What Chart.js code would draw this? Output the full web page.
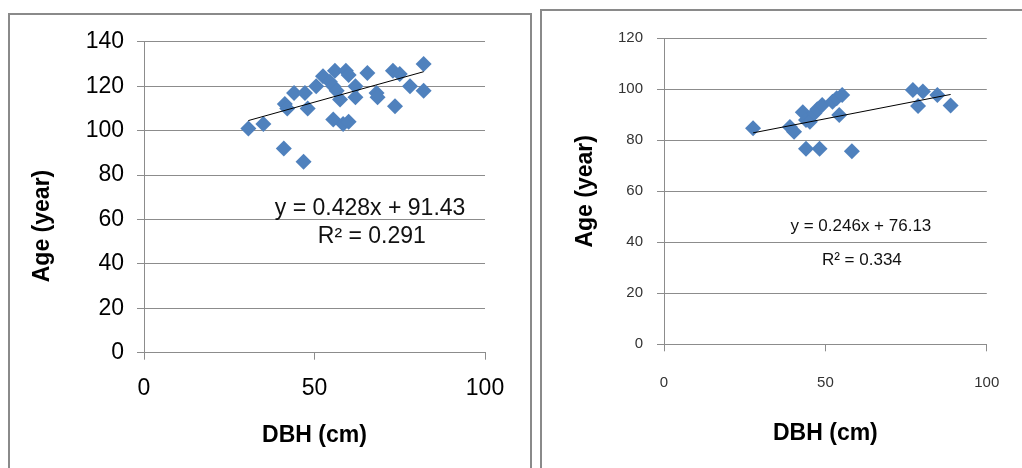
<!DOCTYPE html>
<html lang="en">
<head>
<meta charset="UTF-8">
<title>Age vs DBH</title>
<style>
  body { margin: 0; background: #fff; width: 1022px; height: 468px; overflow: hidden; position: relative; }
  .box { position: absolute; border: 2px solid #8a8a8a; background: #fff; }
  #boxLeft { left: 8px; top: 13px; width: 520px; height: 470px; }
  #boxRight { left: 540px; top: 9px; width: 490px; height: 470px; }
  canvas { position: absolute; left: 0; top: 0; }
</style>
</head>
<body>

<div class="box" id="boxLeft"><canvas id="leftChart" width="520" height="453"></canvas></div>
<div class="box" id="boxRight"><canvas id="rightChart" width="480" height="457"></canvas></div>

<script src="https://cdn.jsdelivr.net/npm/chart.js"></script>
<script>
// left panel: DBH (cm) vs age (year)
const leftDbh = [30.6, 35, 41, 46.8, 41.3, 42, 44, 47.2, 48, 50.5, 52.5, 54.5, 56, 55.5, 56.5, 57.5, 55.5, 58.4, 60, 59.2, 60, 62, 62, 65.5, 68.2, 68.5, 73, 75, 73.6, 78, 82, 82];
const leftAge = [101, 103, 92, 86, 112, 110, 117, 117, 110, 120, 124.5, 122, 127, 120, 118, 114, 105, 103, 104, 127, 125, 120, 115, 126, 117, 115, 127, 125.5, 111, 120, 130, 118];
const leftFit = [0.428, 91.43];
const leftFitText = ['y = 0.428x + 91.43', 'R² = 0.291'];
const leftYTicks = [0, 20, 40, 60, 80, 100, 120, 140];

// right panel
const rightDbh = [27.6, 39, 40.3, 43, 44, 45.2, 46.6, 47.5, 44, 48.2, 49, 52.2, 53.5, 55.2, 54.3, 58.2, 77.1, 80.2, 78.7, 84.7, 88.8];
const rightAge = [84.7, 85.2, 83.4, 91, 88, 87.3, 90.6, 92.2, 76.7, 76.7, 93.8, 95.1, 96.5, 97.8, 89.9, 75.7, 99.7, 99.1, 93.5, 97.8, 93.6];
const rightFit = [0.246, 76.13];
const rightFitText = ['y = 0.246x + 76.13', 'R² = 0.334'];
const rightYTicks = [0, 20, 40, 60, 80, 100, 120];

const xTicks = [0, 50, 100];

const FONT = "'Liberation Sans', Arial, sans-serif";
const GRID = '#8c8c8c';

// equation + R² text inside the plot
const fitLabel = {
    id: 'fitLabel',
    afterDatasetsDraw(chart, args, opts) {
        const { ctx, scales } = chart;
        ctx.save();
        ctx.font = opts.size + 'px ' + FONT;
        ctx.fillStyle = opts.color;
        ctx.textAlign = 'center';
        ctx.textBaseline = 'middle';
        opts.lines.forEach((t, i) => {
            ctx.fillText(t, scales.x.getPixelForValue(opts.at[i][0]), scales.y.getPixelForValue(opts.at[i][1]));
        });
        ctx.restore();
    }
};

function scatterChart(id, dbh, age, fit, fitText, yTicks, cfg) {
    const pts = dbh.map((d, i) => ({ x: d, y: age[i] }));
    const lo = Math.min(...dbh), hi = Math.max(...dbh);
    const trend = [lo, hi].map(d => ({ x: d, y: fit[0] * d + fit[1] }));

    return new Chart(document.getElementById(id), {
        type: 'scatter',
        data: {
            datasets: [
                { data: trend, showLine: true, borderColor: '#000', borderWidth: 1, pointRadius: 0, order: 0 },
                { data: pts, pointStyle: 'rectRot', pointRadius: 8, backgroundColor: '#4F81BD', borderColor: '#4F81BD', borderWidth: 0, order: 1 }
            ]
        },
        options: {
            responsive: false,
            animation: false,
            layout: { padding: cfg.pad },
            plugins: {
                legend: { display: false },
                tooltip: { enabled: false },
                fitLabel: { lines: fitText, at: cfg.textAt, size: cfg.eqSize, color: '#111' }
            },
            scales: {
                x: {
                    type: 'linear',
                    min: xTicks[0],
                    max: xTicks[xTicks.length - 1],
                    ticks: { stepSize: xTicks[1] - xTicks[0], padding: cfg.xTickPad, color: cfg.tickColor, font: { family: FONT, size: cfg.tickSize } },
                    grid: { drawOnChartArea: false, tickLength: 7, color: GRID },
                    border: { color: GRID },
                    title: { display: true, text: 'DBH (cm)', color: '#000', font: { family: FONT, size: 23, weight: 'bold' }, padding: { top: 0, bottom: cfg.xTitlePad } },
                    afterFit: s => { s.height = cfg.xHeight; }
                },
                y: {
                    min: yTicks[0],
                    max: yTicks[yTicks.length - 1],
                    ticks: { stepSize: yTicks[1] - yTicks[0], padding: cfg.yTickPad, color: cfg.tickColor, font: { family: FONT, size: cfg.tickSize } },
                    grid: { tickLength: 7, color: GRID },
                    border: { color: GRID },
                    title: { display: true, text: cfg.yTitle, color: '#000', font: { family: FONT, size: 23, weight: 'bold' }, padding: { top: cfg.yTitlePad, bottom: 0 } },
                    afterFit: s => { s.width = cfg.yWidth; }
                }
            }
        },
        plugins: [fitLabel]
    });
}

scatterChart('leftChart', leftDbh, leftAge, leftFit, leftFitText, leftYTicks, {
    pad: { left: 0, top: 24.5, right: 45, bottom: 0 },
    yWidth: 134, xHeight: 115.3,
    tickSize: 23, tickColor: '#000', eqSize: 23,
    xTickPad: 15, yTickPad: 13,
    xTitlePad: 19, yTitlePad: 19,
    // label sits lower than the plot middle in the original
    yTitle: 'Age (year)' + '\u00a0'.repeat(9),
    textAt: [[66.3, 64.7], [66.8, 52.2]]
});

scatterChart('rightChart', rightDbh, rightAge, rightFit, rightFitText, rightYTicks, {
    pad: { left: 0, top: 27.3, right: 30, bottom: 0 },
    yWidth: 122, xHeight: 123.7,
    tickSize: 15, tickColor: '#333', eqSize: 17,
    xTickPad: 22.7, yTickPad: 14,
    xTitlePad: 21, yTitlePad: 30,
    yTitle: 'Age (year)',
    textAt: [[61, 46.4], [61.3, 33.1]]
});
</script>

</body>
</html>
